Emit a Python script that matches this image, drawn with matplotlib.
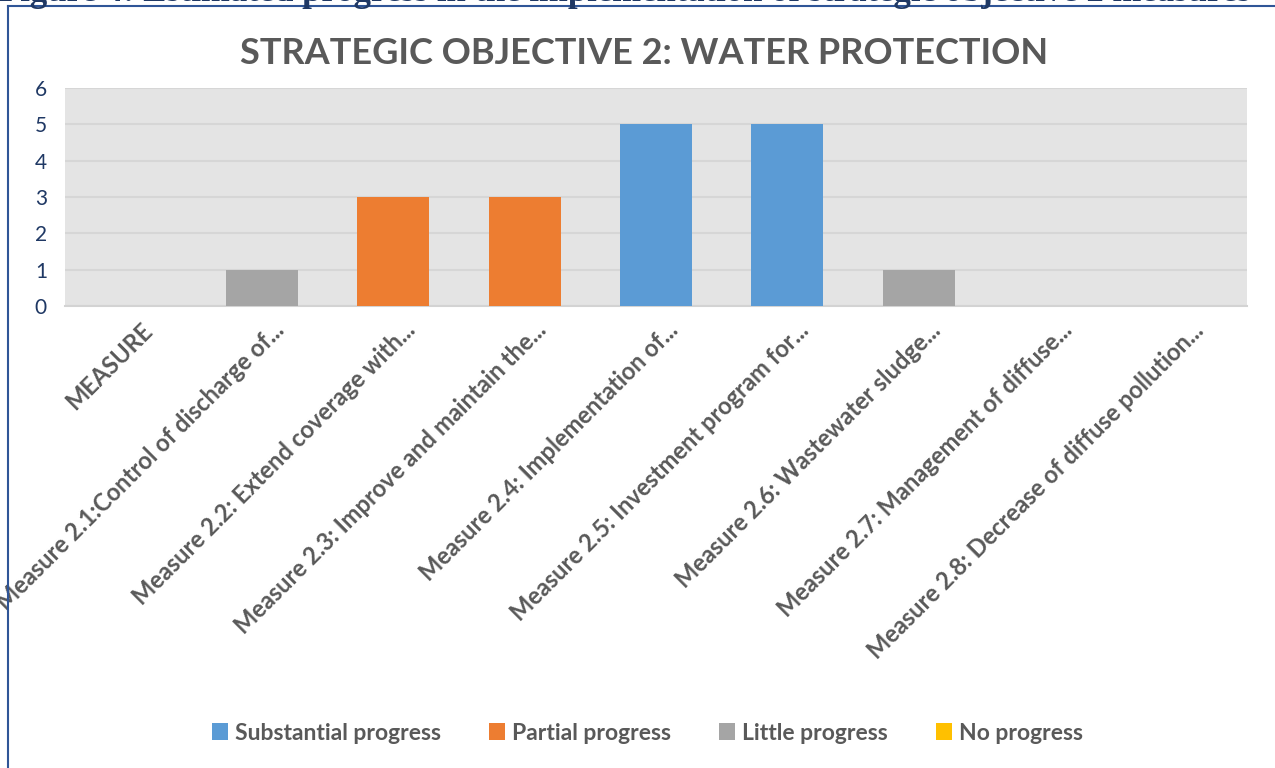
import matplotlib.pyplot as plt
import matplotlib.transforms as mtransforms
import numpy as np

# data
measures = ["MEASURE",
            "Measure 2.1:Control of discharge of...",
            "Measure 2.2: Extend coverage with...",
            "Measure 2.3: Improve and maintain the...",
            "Measure 2.4: Implementation of...",
            "Measure 2.5: Investment program for...",
            "Measure 2.6: Wastewater sludge...",
            "Measure 2.7: Management of diffuse...",
            "Measure 2.8: Decrease of diffuse pollution..."]
substantial = [0, 0, 0, 0, 5, 5, 0, 0, 0]
partial = [0, 0, 3, 3, 0, 0, 0, 0, 0]
little = [0, 1, 0, 0, 0, 0, 1, 0, 0]
no_progress = [0, 0, 0, 0, 0, 0, 0, 0, 0]

series = [("Substantial progress", substantial, "#5B9BD5"),
          ("Partial progress", partial, "#ED7D31"),
          ("Little progress", little, "#A5A5A5"),
          ("No progress", no_progress, "#FFC000")]

plt.rcParams['font.family'] = ['Lato', 'DejaVu Sans']

fig = plt.figure(figsize=(12.75, 7.68), dpi=100)
ax = fig.add_axes([65/1275, 1 - 306/768, (1247-65)/1275, (306-88)/768])

x = np.arange(len(measures))
bottom = np.zeros(len(measures))
for name, vals, col in series:
    ax.bar(x, vals, 0.55, bottom=bottom, color=col, label=name, zorder=3)
    bottom += np.array(vals)

ax.set_facecolor("#E4E4E4")
ax.set_xlim(-0.5, len(measures) - 0.5)
ax.set_ylim(0, 6)
ax.set_yticks(range(0, 7))
ax.yaxis.grid(True, color="#D6D6D6", linewidth=1.5, zorder=1)
for s in ["top", "right", "left"]:
    ax.spines[s].set_visible(False)
ax.spines["bottom"].set_color("#D3D3D3")
ax.spines["bottom"].set_linewidth(1.5)
ax.tick_params(axis="both", length=0)
ax.tick_params(axis="y", labelsize=15, labelcolor="#1F3864", pad=13)
ax.set_xticks(x)
ax.set_xticklabels(measures, rotation=45, ha="right", rotation_mode="anchor",
                   fontsize=17, fontweight="bold", color="#595959")
ax.tick_params(axis="x", pad=9)
shift = mtransforms.ScaledTranslation(10/100, 0, fig.dpi_scale_trans)
for lab in ax.get_xticklabels():
    lab.set_transform(lab.get_transform() + shift)

fig.text(0.505, 1 - 54/768, "STRATEGIC OBJECTIVE 2: WATER PROTECTION",
         ha="center", va="center", fontsize=26, fontweight="bold", color="#595959")

# cut caption and frame from the source document
fig.text(0.49, 1 - 1/768, "Figure 4: Estimated progress in the implementation of strategic objective 2 measures",
         ha="center", va="baseline", fontsize=25, fontweight="bold",
         color="#1F3864", family="Liberation Serif")
fig.add_artist(plt.Line2D([8/1275, 1], [1 - 6/768, 1 - 6/768], color="#2F5597", lw=1.5))
fig.add_artist(plt.Line2D([8/1275, 8/1275], [0, 1 - 6/768], color="#2F5597", lw=1.5))

leg = fig.legend(loc="center", bbox_to_anchor=(0.508, 1 - 733/768), ncol=4, frameon=False,
                 handlelength=0.7, handleheight=0.7, handletextpad=0.3, columnspacing=2.1,
                 prop={"size": 16.5, "weight": "bold"})
for t in leg.get_texts():
    t.set_color("#595959")

fig.savefig("out.png", dpi=100)
